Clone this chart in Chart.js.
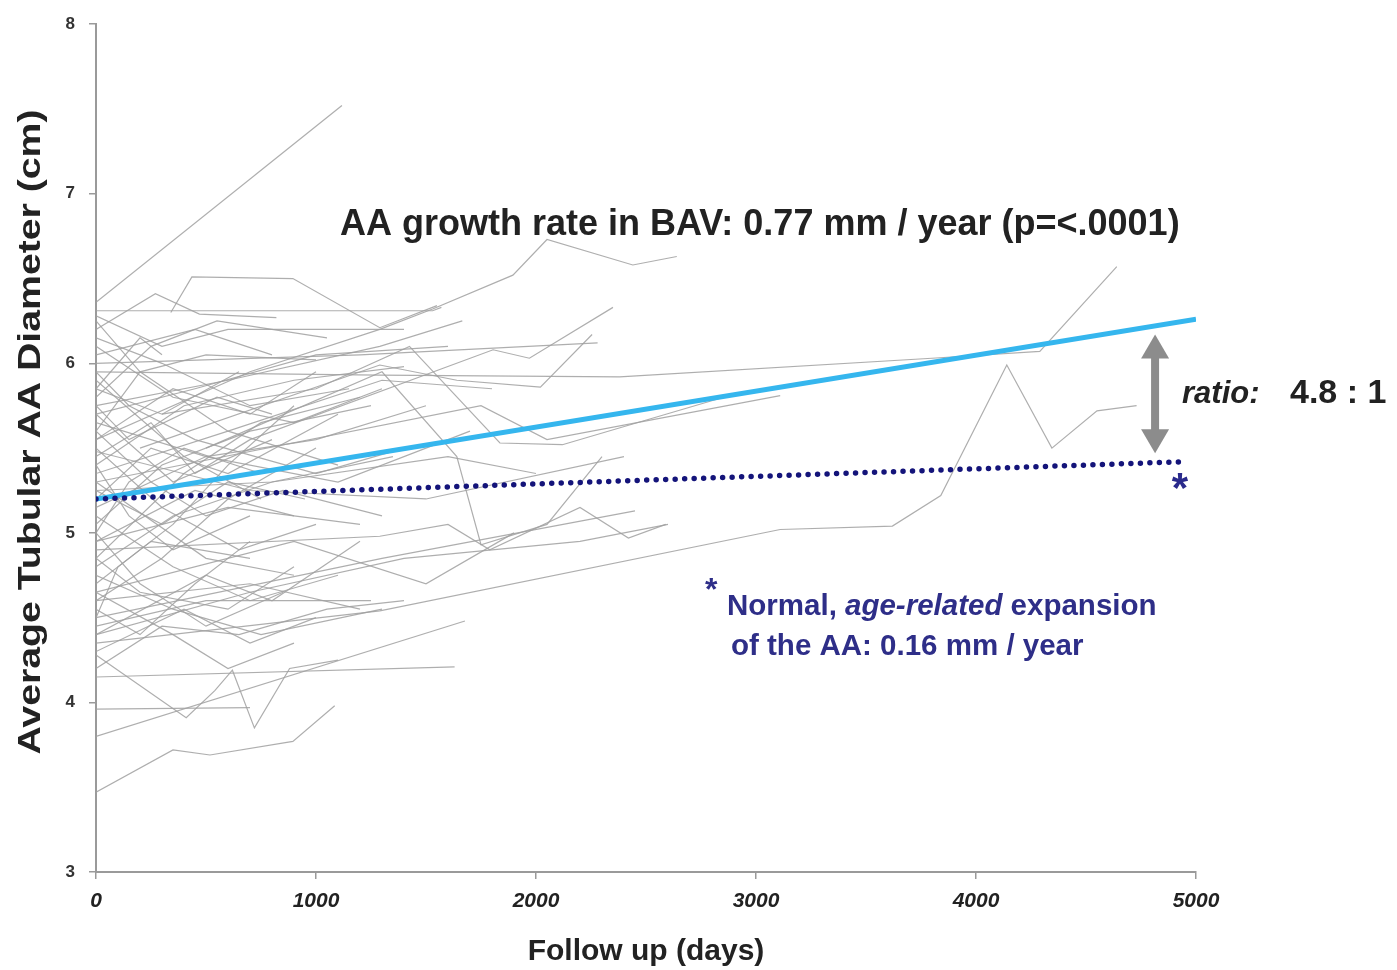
<!DOCTYPE html>
<html>
<head>
<meta charset="utf-8">
<script src="https://cdn.jsdelivr.net/npm/chart.js@4.4.1/dist/chart.umd.min.js"></script>
<style>
  html, body { margin: 0; padding: 0; background: #ffffff; }
  #wrap { width: 1397px; height: 970px; }
</style>
</head>
<body>
<div id="wrap"><canvas id="c" width="1397" height="970"></canvas></div>
<script>
// ---------- DATA ----------
const xTicks = [0, 1000, 2000, 3000, 4000, 5000];
const yTicks = [3, 4, 5, 6, 7, 8];

// BAV regression line (0.77 mm/year) and normal age-related expansion (0.16 mm/year)
const bavTrend = [[0, 5.20], [5000, 6.26]];
const normalTrend = [[0, 5.20], [4950, 5.42]];

// ratio arrow (days, cm)
const arrowDay = 4814;
const arrowTop = 6.17;
const arrowBottom = 5.47;

// individual patients: [follow-up days, diameter cm]
const patients = [
  [[0,6.36],[1118,7.52]],
  [[0,6.31],[1530,6.31],[1570,6.33]],
  [[340,6.30],[436,6.51],[895,6.50],[1290,6.21],[1550,6.34]],
  [[0,6.20],[270,6.41],[470,6.29],[820,6.27]],
  [[0,5.55],[700,5.95],[1290,6.20],[1530,6.32],[1895,6.52],[2050,6.73],[2440,6.58],[2640,6.63]],
  [[0,5.75],[600,5.90],[1290,6.10],[1665,6.25]],
  [[0,5.95],[1290,5.93],[2380,5.92],[3800,6.03],[4290,6.07],[4640,6.57]],
  [[0,5.30],[1750,5.75],[2050,5.55],[3110,5.81]],
  [[0,4.35],[1290,4.54],[3110,5.02],[3620,5.04],[3840,5.22],[4140,5.99],[4345,5.50],[4550,5.72],[4730,5.75]],
  [[0,3.47],[350,3.72],[518,3.69],[895,3.77],[1085,3.98]],
  [[0,3.80],[1677,4.48]],
  [[0,4.15],[1630,4.21]],
  [[0,4.28],[410,3.91],[540,4.07],[620,4.19],[720,3.85],[880,4.20],[1100,4.25]],
  [[0,3.96],[700,3.97]],
  [[0,6.00],[1200,6.05],[2280,6.12]],
  [[200,5.50],[1290,5.99],[1640,5.90],[2020,5.86],[2255,6.17]],
  [[700,5.55],[1805,6.08],[1970,6.03],[2350,6.33]],
  [[300,5.70],[1000,5.85],[1425,6.10],[1836,5.53],[2120,5.52],[2880,5.81]],
  [[500,5.50],[1300,5.95],[1640,5.45],[1750,4.93],[2050,5.05],[2300,5.45]],
  [[0,4.90],[1290,4.98],[1600,5.05],[1790,4.90],[2200,5.15],[2420,4.97],[2590,5.05]],
  [[0,4.50],[1300,4.85],[2450,5.13]],
  [[0,4.65],[900,4.95],[1500,4.70],[1900,5.00]],
  [[0,4.60],[700,4.70],[1200,4.55]],
  [[0,4.45],[500,4.60],[1250,4.60]],
  [[0,5.85],[300,5.70],[650,5.95]],
  [[0,5.60],[200,5.95],[500,6.05],[1000,6.02]],
  [[0,5.40],[400,5.75],[900,5.90],[1400,5.98]],
  [[0,5.70],[350,5.30],[800,5.55]],
  [[0,5.20],[250,5.50],[600,5.35],[1100,5.70]],
  [[0,5.05],[300,5.40],[700,5.60],[1250,5.75]],
  [[0,4.95],[450,5.25],[900,5.10]],
  [[0,4.80],[350,5.10],[800,5.30],[1350,5.45]],
  [[0,4.70],[250,4.95],[700,4.85]],
  [[0,5.50],[300,5.15],[650,4.90],[1000,5.05]],
  [[0,5.30],[500,4.85],[900,4.75]],
  [[0,5.90],[400,5.45],[750,5.20]],
  [[0,6.10],[350,5.80],[900,5.65],[1300,5.85]],
  [[0,6.25],[200,5.95],[600,5.60],[1100,5.40]],
  [[0,5.75],[150,5.55],[550,5.80],[800,5.70]],
  [[0,5.35],[600,5.60],[1300,5.90],[1800,5.85]],
  [[0,4.60],[300,4.85],[600,5.20],[1000,5.50]],
  [[0,4.40],[500,4.75],[800,4.60],[1200,4.95]],
  [[0,4.85],[200,4.65],[600,4.55],[900,4.80]],
  [[0,5.10],[350,4.80],[700,4.60],[1100,4.75]],
  [[0,5.65],[500,5.45],[1000,5.55],[1500,5.75]],
  [[0,5.45],[250,5.65],[450,5.35],[700,5.55]],
  [[0,5.00],[150,5.30],[400,5.50],[750,5.35]],
  [[0,4.55],[200,4.40],[450,4.70],[700,4.95]],
  [[0,5.80],[250,6.10],[550,6.25],[1050,6.15]],
  [[0,5.25],[300,5.05],[600,5.30],[950,5.20]],
  [[0,4.75],[350,4.55],[750,4.40],[1300,4.55]],
  [[0,6.05],[450,6.20],[800,6.05]],
  [[0,5.55],[350,5.85],[700,5.70],[1000,5.95]],
  [[0,5.15],[500,5.45],[1100,5.30],[1700,5.60]],
  [[0,4.95],[600,5.15],[1200,5.05]],
  [[0,4.30],[400,4.55],[700,4.35],[1000,4.50]],
  [[0,5.95],[150,5.75],[450,5.55],[1000,5.35],[1400,5.50]],
  [[0,4.50],[100,4.80],[350,5.05],[600,5.40],[900,5.75]],
  [[0,6.15],[300,6.00],[700,5.75],[1150,5.85]],
  [[0,5.00],[200,4.70],[500,4.45],[850,4.65]],
  [[0,5.60],[250,5.30],[500,5.10],[850,5.25],[1300,5.10]],
  [[0,4.85],[400,5.35],[750,5.65],[1200,5.80]],
  [[0,5.40],[150,5.10],[350,4.90],[700,5.10]],
  [[0,5.70],[450,5.85],[1000,6.05],[1600,6.10]],
  [[0,4.20],[300,4.45],[650,4.40],[1050,4.55],[1400,4.60]],
  [[0,5.25],[800,5.30],[1600,5.45],[2000,5.35]],
  [[0,4.65],[350,4.40],[600,4.20],[900,4.35]],
  [[0,5.85],[200,6.15],[300,6.05]],
  [[0,5.48],[700,5.25],[1500,5.20],[2400,5.45]],
  [[0,4.40],[700,4.65],[1400,4.85],[2200,4.95],[2600,5.05]],
  [[0,6.28],[300,6.10],[600,6.20],[1400,6.20]]
];

const yTitle = 'Average Tubular AA Diameter (cm)';
const xTitle = 'Follow up (days)';
const growthLabel = 'AA growth rate in BAV: 0.77 mm / year (p=<.0001)';
const ratioLabel = 'ratio:';
const ratioValue = '4.8 : 1';
const noteLine1 = ['Normal, ', 'age-related', ' expansion'];
const noteLine2 = 'of the AA: 0.16 mm / year';

// ---------- BUILD ----------
const toXY = arr => arr.map(p => ({x: p[0], y: p[1]}));

const datasets = [
  {
    label: 'Normal',
    data: toXY(normalTrend),
    borderColor: '#14147a',
    borderWidth: 5.5,
    borderDash: [0, 9.5],
    borderCapStyle: 'round',
    pointRadius: 0,
    tension: 0,
    fill: false
  },
  {
    label: 'BAV',
    data: toXY(bavTrend),
    borderColor: '#35b6ee',
    borderWidth: 5,
    pointRadius: 0,
    tension: 0,
    fill: false
  }
];
patients.forEach((p, i) => {
  datasets.push({
    label: 'P' + (i + 1),
    data: toXY(p),
    borderColor: 'rgba(160,160,160,0.85)',
    borderWidth: 1.2,
    pointRadius: 0,
    tension: 0,
    fill: false
  });
});

const FONT = '"Liberation Sans", Arial, Helvetica, sans-serif';

const annotations = {
  id: 'annotations',
  afterDatasetsDraw(chart) {
    const {ctx} = chart;
    const xs = chart.scales.x, ys = chart.scales.y;
    ctx.save();
    ctx.textBaseline = 'alphabetic';
    ctx.textAlign = 'left';

    // growth rate text
    ctx.fillStyle = '#222';
    ctx.font = 'bold 36px ' + FONT;
    ctx.fillText(growthLabel, 340, 235);

    // double arrow
    const ax = xs.getPixelForValue(arrowDay);
    const y1 = ys.getPixelForValue(arrowTop);
    const y2 = ys.getPixelForValue(arrowBottom);
    ctx.fillStyle = '#8c8c8c';
    const hw = 14, hh = 24, sw = 4;
    ctx.fillRect(ax - sw, y1 + hh - 2, sw * 2, (y2 - y1) - 2 * hh + 4);
    ctx.beginPath();
    ctx.moveTo(ax, y1); ctx.lineTo(ax - hw, y1 + hh); ctx.lineTo(ax + hw, y1 + hh); ctx.closePath(); ctx.fill();
    ctx.beginPath();
    ctx.moveTo(ax, y2); ctx.lineTo(ax - hw, y2 - hh); ctx.lineTo(ax + hw, y2 - hh); ctx.closePath(); ctx.fill();

    // ratio text
    ctx.fillStyle = '#222';
    ctx.font = 'italic bold 31px ' + FONT;
    ctx.fillText(ratioLabel, 1182, 403);
    ctx.font = 'bold 34px ' + FONT;
    ctx.fillText(ratioValue, 1290, 403);

    // star at end of normal line
    ctx.fillStyle = '#2a2a8c';
    ctx.font = 'bold 42px ' + FONT;
    ctx.textAlign = 'center';
    ctx.fillText('*', 1180, 502);

    // note
    ctx.textAlign = 'left';
    ctx.fillStyle = '#2e2e88';
    ctx.font = 'bold 32px ' + FONT;
    ctx.fillText('*', 705, 600);
    let xx = 727;
    ctx.font = 'bold 29.5px ' + FONT;
    ctx.fillText(noteLine1[0], xx, 615); xx += ctx.measureText(noteLine1[0]).width;
    ctx.font = 'italic bold 29.5px ' + FONT;
    ctx.fillText(noteLine1[1], xx, 615); xx += ctx.measureText(noteLine1[1]).width;
    ctx.font = 'bold 29.5px ' + FONT;
    ctx.fillText(noteLine1[2], xx, 615);
    ctx.fillText(noteLine2, 731, 655);

    // y-axis title (condensed, tall)
    ctx.save();
    ctx.fillStyle = '#222';
    ctx.font = 'bold 31px ' + FONT;
    ctx.textAlign = 'center';
    ctx.textBaseline = 'middle';
    ctx.translate(31, 432);
    ctx.rotate(-Math.PI / 2);
    const w = ctx.measureText(yTitle).width;
    ctx.scale(645 / w, 1);
    ctx.fillText(yTitle, 0, 0);
    ctx.restore();

    ctx.restore();
  }
};

new Chart(document.getElementById('c'), {
  type: 'line',
  data: { datasets },
  options: {
    responsive: false,
    animation: false,
    events: [],
    layout: { padding: { left: 0, right: 201, top: 20, bottom: 0 } },
    plugins: { legend: { display: false }, tooltip: { enabled: false } },
    scales: {
      x: {
        type: 'linear',
        min: 0, max: 5000,
        afterBuildTicks: s => { s.ticks = xTicks.map(v => ({value: v})); },
        afterFit: s => { s.height = 98; },
        ticks: {
          color: '#222',
          font: { family: FONT, size: 21, weight: 'bold', style: 'italic' },
          padding: 10,
          maxRotation: 0,
          callback: v => String(v)
        },
        grid: { drawOnChartArea: false, drawTicks: true, tickLength: 7, color: '#9a9a9a', lineWidth: 1.5 },
        border: { display: true, color: '#9a9a9a', width: 2 },
        title: {
          display: true,
          text: xTitle,
          color: '#222',
          font: { family: FONT, size: 30, weight: 'bold' },
          padding: { top: 4, bottom: 0 }
        }
      },
      y: {
        type: 'linear',
        min: 3, max: 8,
        afterBuildTicks: s => { s.ticks = yTicks.map(v => ({value: v})); },
        afterFit: s => { s.width = 96; },
        ticks: {
          color: '#333',
          font: { family: FONT, size: 17, weight: 'bold' },
          padding: 14,
          callback: v => String(v)
        },
        grid: { drawOnChartArea: false, drawTicks: true, tickLength: 7, color: '#9a9a9a', lineWidth: 1.5 },
        border: { display: true, color: '#9a9a9a', width: 2 },
        title: { display: false }
      }
    }
  },
  plugins: [annotations, {
    id: 'bg',
    beforeDraw(chart) {
      const c = chart.ctx; c.save(); c.fillStyle = '#fff'; c.fillRect(0, 0, chart.width, chart.height); c.restore();
    }
  }]
});
</script>
</body>
</html>
